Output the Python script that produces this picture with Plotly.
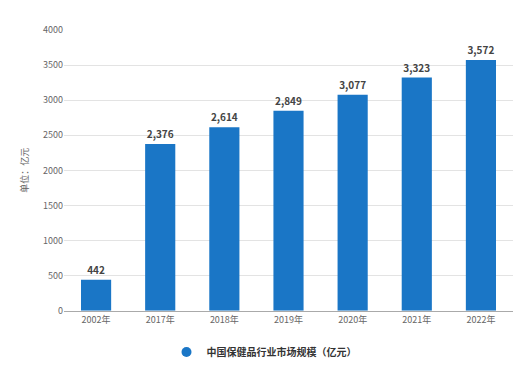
import plotly.graph_objects as go

categories = ["2002年", "2017年", "2018年", "2019年", "2020年", "2021年", "2022年"]
values = [442, 2376, 2614, 2849, 3077, 3323, 3572]
value_labels = ["442", "2,376", "2,614", "2,849", "3,077", "3,323", "3,572"]
series_name = "中国保健品行业市场规模（亿元）"
y_ticks = [0, 500, 1000, 1500, 2000, 2500, 3000, 3500, 4000]

font_family = "Noto Sans CJK SC, Noto Sans, sans-serif"
bar_color = "#1A76C6"

fig = go.Figure()
fig.add_trace(go.Bar(
    x=categories, y=values, name=series_name,
    marker=dict(color=bar_color, line=dict(width=0)),
    text=["<b>" + t + "</b>" for t in value_labels], textposition="outside",
    textfont=dict(size=10, color="#444444", family=font_family),
    cliponaxis=False, showlegend=False,
))
# legend entry with circle marker
fig.add_trace(go.Scatter(
    x=[categories[0]], y=[None], mode="markers", name="<b>" + series_name + "</b>",
    marker=dict(color=bar_color, size=10, symbol="circle"), showlegend=True,
    hoverinfo="skip",
))

fig.update_layout(
    width=528, height=366,
    margin=dict(l=64, r=15, t=30, b=54),
    paper_bgcolor="white", plot_bgcolor="white",
    bargap=0.53,
    font=dict(family=font_family, size=9, color="#666666"),
    showlegend=True,
    legend=dict(
        orientation="h", xref="container", x=0.5, xanchor="center",
        yref="container", y=14 / 366, yanchor="middle",
        font=dict(size=10, color="#333333", family=font_family),
        bgcolor="rgba(0,0,0,0)", itemwidth=30,
    ),
    xaxis=dict(
        showgrid=False, showline=True, linecolor="#aaaaaa", linewidth=1,
        ticks="", tickfont=dict(size=9, color="#666666"),
    ),
    yaxis=dict(
        range=[0, 4000], tickvals=y_ticks, showgrid=True, gridcolor="#e3e3e3",
        zeroline=False, showline=False, ticks="",
        tickfont=dict(size=9, color="#666666"),
        title=dict(text="单位：亿元", font=dict(size=9, color="#666666"), standoff=12),
    ),
)

fig.write_html("out.html")
